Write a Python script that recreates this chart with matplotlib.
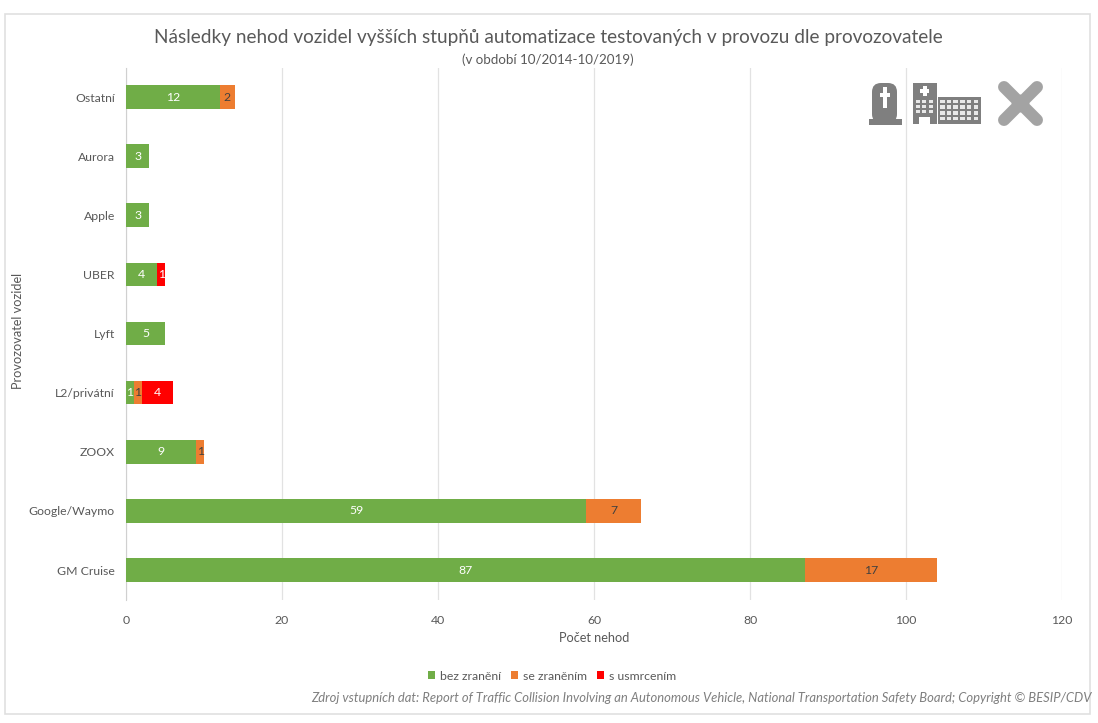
import matplotlib
matplotlib.use("Agg")
import matplotlib.pyplot as plt
from matplotlib.patches import Rectangle, FancyBboxPatch, Polygon

categories = ["GM Cruise", "Google/Waymo", "ZOOX", "L2/privátní", "Lyft", "UBER", "Apple", "Aurora", "Ostatní"]
bez_zraneni = [87, 59, 9, 1, 5, 4, 3, 3, 12]
se_zranenim = [17, 7, 1, 1, 0, 0, 0, 0, 2]
s_usmrcenim = [0, 0, 0, 4, 0, 1, 0, 0, 0]
series_names = ["bez zranění", "se zraněním", "s usmrcením"]
xticks = [0, 20, 40, 60, 80, 100, 120]

plt.rcParams['font.family'] = ['Lato', 'DejaVu Sans']
W, H = 1098, 723
GREY = "#595959"
fig = plt.figure(figsize=(W/100, H/100), dpi=100, facecolor="white")

ov = fig.add_axes([0, 0, 1, 1], zorder=3)
ov.set_xlim(0, W); ov.set_ylim(H, 0); ov.axis("off"); ov.patch.set_alpha(0)
ov.add_patch(Rectangle((5, 14), 1085, 700, fill=False, ec="#e0e0e0", lw=1.2))

ax = fig.add_axes([126/W, 1-599.6/H, (1062-126)/W, (599.6-67.5)/H], zorder=2)
ax.patch.set_alpha(0)
colors = ["#70ad47", "#ed7d31", "#ff0000"]
left = [0]*len(categories)
for vals, c, name in zip([bez_zraneni, se_zranenim, s_usmrcenim], colors, series_names):
    bars = ax.barh(categories, vals, left=left, height=0.4, color=c, label=name, zorder=3)
    for b, v in zip(bars, vals):
        if v:
            tc = "#404040" if c == "#ed7d31" else "white"
            ax.text(b.get_x()+b.get_width()/2, b.get_y()+b.get_height()/2, str(v),
                    ha="center", va="center", color=tc, fontsize=8.8, zorder=4)
    left = [l+v for l, v in zip(left, vals)]

ax.set_xlim(0, 120); ax.set_ylim(-0.5, len(categories)-0.5)
ax.set_xticks(xticks)
ax.grid(axis="x", color="#e2e2e2", lw=0.9, zorder=0)
ax.set_axisbelow(True)
for s in ["top", "right", "bottom"]:
    ax.spines[s].set_visible(False)
ax.spines["left"].set_color("#d0d0d0")
ax.tick_params(length=0, labelsize=8.8, labelcolor=GREY)
ax.tick_params(axis="x", pad=11)
ax.tick_params(axis="y", pad=8)
fig.text(594/W, 1-638.5/H, "Počet nehod", ha="center", va="center", fontsize=9.2, color=GREY)
fig.text(18/W, 1-331/H, "Provozovatel vozidel", rotation=90, ha="center", va="center", fontsize=9.2, color=GREY)
fig.text(548/W, 1-38/H, "Následky nehod vozidel vyšších stupňů automatizace testovaných v provozu dle provozovatele",
         ha="center", va="center", fontsize=13.7, color=GREY)
fig.text(548/W, 1-59.5/H, "(v období 10/2014-10/2019)", ha="center", va="center", fontsize=9.6, color=GREY)
fig.text(1092/W, 1-698/H,
         "Zdroj vstupních dat: Report of Traffic Collision Involving an Autonomous Vehicle, National Transportation Safety Board; Copyright © BESIP/CDV",
         ha="right", va="center", fontsize=9.4, style="italic", color="#7f7f7f")

h, l = ax.get_legend_handles_labels()
fig.legend(h, l, loc="center", bbox_to_anchor=(552/W, 1-676/H), ncol=3, frameon=False,
           fontsize=8.8, labelcolor=GREY, handlelength=0.6, handleheight=0.6,
           handletextpad=0.4, columnspacing=0.8)

IC = "#7f7f7f"
# tombstone
ov.add_patch(FancyBboxPatch((872, 83), 25, 40, boxstyle="round,pad=0,rounding_size=9", fc=IC, ec="none"))
ov.add_patch(Rectangle((869, 119), 33, 6, fc=IC, ec="none"))
ov.add_patch(Rectangle((883, 87), 4, 21, fc="white", ec="none"))
ov.add_patch(Rectangle((880, 93), 10, 4, fc="white", ec="none"))
# hospital
ov.add_patch(Rectangle((913, 83), 24, 41, fc=IC, ec="none"))
ov.add_patch(Rectangle((938, 97), 43, 27, fc=IC, ec="none"))
ov.add_patch(Rectangle((922.5, 86), 4, 10, fc="white", ec="none"))
ov.add_patch(Rectangle((920, 89), 9, 4, fc="white", ec="none"))
for r in range(3):
    for c in range(3):
        ov.add_patch(Rectangle((916+c*6.3, 100+r*5), 4, 3, fc="#e8e8e8", ec="none"))
for r in range(4):
    for c in range(6):
        ov.add_patch(Rectangle((940+c*6.7, 99.5+r*5.8), 4.6, 3.4, fc="#e8e8e8", ec="none"))
ov.add_patch(Rectangle((918.5, 117), 11, 7, fc="white", ec="none"))
# plaster
cx, cy, a = 1020.5, 103.5, 16.5
for sx in (1, -1):
    ov.plot([cx-sx*a, cx+sx*a], [cy-a, cy+a], color="#a3a3a3", lw=8.6, solid_capstyle="round")
ov.add_patch(Polygon([(cx-9, cy), (cx, cy-9), (cx+9, cy), (cx, cy+9)], fc="#737373", ec="none"))
ov.set_xlim(0, W); ov.set_ylim(H, 0)

fig.savefig("out.png", dpi=100, facecolor="white")
